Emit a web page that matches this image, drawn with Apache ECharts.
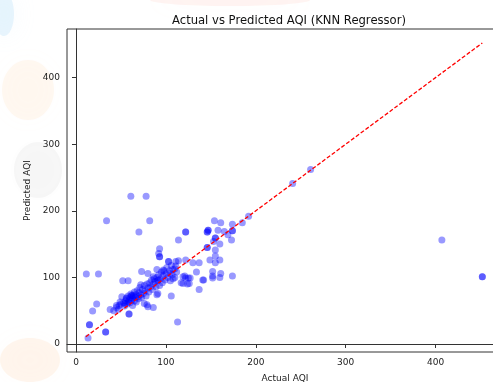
<!DOCTYPE html>
<html>
<head>
<meta charset="utf-8">
<title>Actual vs Predicted AQI</title>
<script src="https://cdn.jsdelivr.net/npm/echarts@6/dist/echarts.min.js"></script>
<style>
    html, body { margin: 0; padding: 0; background: #fff; }
    #main { width: 493px; height: 382px; }
</style>
</head>
<body>
<div id="main"></div>
<script>
// [actual, predicted] pairs
var points = [
    [11.5, 105], [25, 105], [34, 185], [61, 222], [78, 222], [82, 185], [70, 168],
    [114, 156], [122, 168], [122, 168], [146, 168], [146, 168],
    [93, 143], [92, 136], [93, 131], [93, 131],
    [13.4, 9], [15, 29], [15, 29], [18.5, 49.5], [23, 60], [33, 18], [33, 18], [38, 52], [113, 33],
    [241, 241], [261, 262], [407, 156], [452, 101], [452, 101],
    [192, 192], [185, 182], [174, 180], [174, 170], [174, 170], [154, 185], [161, 182],
    [147, 171], [147, 171], [158, 171], [165, 169], [169, 164], [173, 156],
    [155, 159], [155, 159], [153, 154], [160, 150], [146, 145], [146, 145],
    [155, 141], [155, 132], [149, 126], [160, 126], [155, 122], [152, 109], [152, 102],
    [161, 106], [174, 102], [152, 99], [160, 100], [142, 96], [134, 108], [137, 82], [141, 96],
    [103, 124], [103, 124], [111, 124], [114, 125], [122, 126], [130, 122], [137, 122],
    [119, 101], [125, 99], [124, 90], [117, 92], [119, 91], [126, 91], [122, 99], [112, 108],
    [108, 98], [106, 72], [52, 95], [58, 95],
    [80, 56], [86, 55], [76, 61], [79, 59], [59, 45], [59, 45], [72, 89], [91, 76], [90, 74],
    [45, 58], [51, 71], [56, 69], [49, 63], [54.5, 61], [62, 73], [62, 73],
    [90, 112], [97, 111], [104.6, 106], [110, 113], [121, 102], [127, 99], [73, 109],
    [80, 106], [86, 101], [91.5, 96],
    [42, 50], [45, 55], [47, 52], [48, 58], [50, 60], [53, 62], [54, 57], [55, 65],
    [56, 68], [57, 60], [58, 72], [58, 63], [59, 66], [60, 70], [60, 62], [61, 75],
    [62, 66], [63, 69], [63, 58], [64, 72], [65, 65], [65, 78], [66, 70], [67, 74],
    [67, 63], [68, 80], [69, 71], [70, 68], [70, 77], [71, 85], [72, 74], [73, 70],
    [74, 82], [75, 76], [76, 88], [77, 80], [78, 72], [79, 90], [80, 84], [81, 78],
    [82, 92], [83, 86], [84, 96], [85, 82], [86, 90], [87, 98], [88, 94], [89, 86],
    [90, 100], [91, 95], [92, 104], [93, 88], [94, 98], [95, 108], [96, 92], [97, 102],
    [98, 110], [99, 96], [100, 105], [101, 115], [102, 100], [104, 110], [105, 95],
    [106, 118], [107, 104], [108, 112], [110, 100], [111, 117]
];
// ideal fit line from min to max actual
var idealLine = [[11, 11], [452, 452]];
var tickValues = [0, 100, 200, 300, 400];

var myChart = echarts.init(document.getElementById('main'));
var font = 'DejaVu Sans';

// soft blob for the faint watermark behind the figure
function blob(cx, cy, rx, ry, color) {
    return {
        type: 'ellipse', z: -10, silent: true,
        shape: { cx: cx, cy: cy, rx: rx, ry: ry },
        style: { fill: color, shadowBlur: 25, shadowColor: color }
    };
}

var option = {
    backgroundColor: '#fff',
    animation: false,
    graphic: [
        blob(4, 14, 10, 22, 'rgba(190,225,250,0.35)'),
        blob(28, 90, 26, 30, 'rgba(255,215,180,0.18)'),
        blob(38, 170, 24, 28, 'rgba(175,175,175,0.10)'),
        blob(30, 360, 30, 22, 'rgba(255,210,170,0.2)'),
        blob(230, 0, 80, 6, 'rgba(255,205,195,0.22)')
    ],
    title: {
        text: 'Actual vs Predicted AQI (KNN Regressor)',
        left: 284,
        textAlign: 'center',
        top: 10,
        textStyle: { fontFamily: font, fontSize: 11.6, fontWeight: 'normal', color: '#111' }
    },
    grid: {
        left: 67,
        top: 29,
        width: 436,
        height: 323,
        outerBoundsMode: 'none',
        containLabel: false,
        show: true,
        backgroundColor: '#fff',
        borderColor: '#333',
        borderWidth: 1
    },
    xAxis: {
        type: 'value',
        min: -10,
        max: 475,
        name: 'Actual AQI',
        nameLocation: 'middle',
        nameGap: 22,
        nameTextStyle: { fontFamily: font, fontSize: 9, color: '#222' },
        axisLine: { show: true, lineStyle: { color: '#333', width: 1 } },
        axisTick: { show: true, length: 4, customValues: tickValues, lineStyle: { color: '#333' } },
        axisLabel: { customValues: tickValues, margin: 6, fontFamily: font, fontSize: 9, color: '#222' },
        splitLine: { show: false }
    },
    yAxis: {
        type: 'value',
        min: -12,
        max: 473,
        name: 'Predicted AQI',
        nameLocation: 'middle',
        nameGap: 31,
        nameTextStyle: { fontFamily: font, fontSize: 9, color: '#222' },
        axisLine: { show: true, lineStyle: { color: '#333', width: 1 } },
        axisTick: { show: true, length: 4, customValues: tickValues, lineStyle: { color: '#333' } },
        axisLabel: { customValues: tickValues, margin: 7, fontFamily: font, fontSize: 9, color: '#222' },
        splitLine: { show: false }
    },
    series: [
        {
            type: 'scatter',
            symbolSize: 7,
            itemStyle: { color: 'rgba(0,0,255,0.5)' },
            data: points
        },
        {
            type: 'line',
            showSymbol: false,
            lineStyle: { color: '#ff0000', type: [4, 2], width: 1.3 },
            data: idealLine
        }
    ]
};
myChart.setOption(option);
</script>
</body>
</html>
